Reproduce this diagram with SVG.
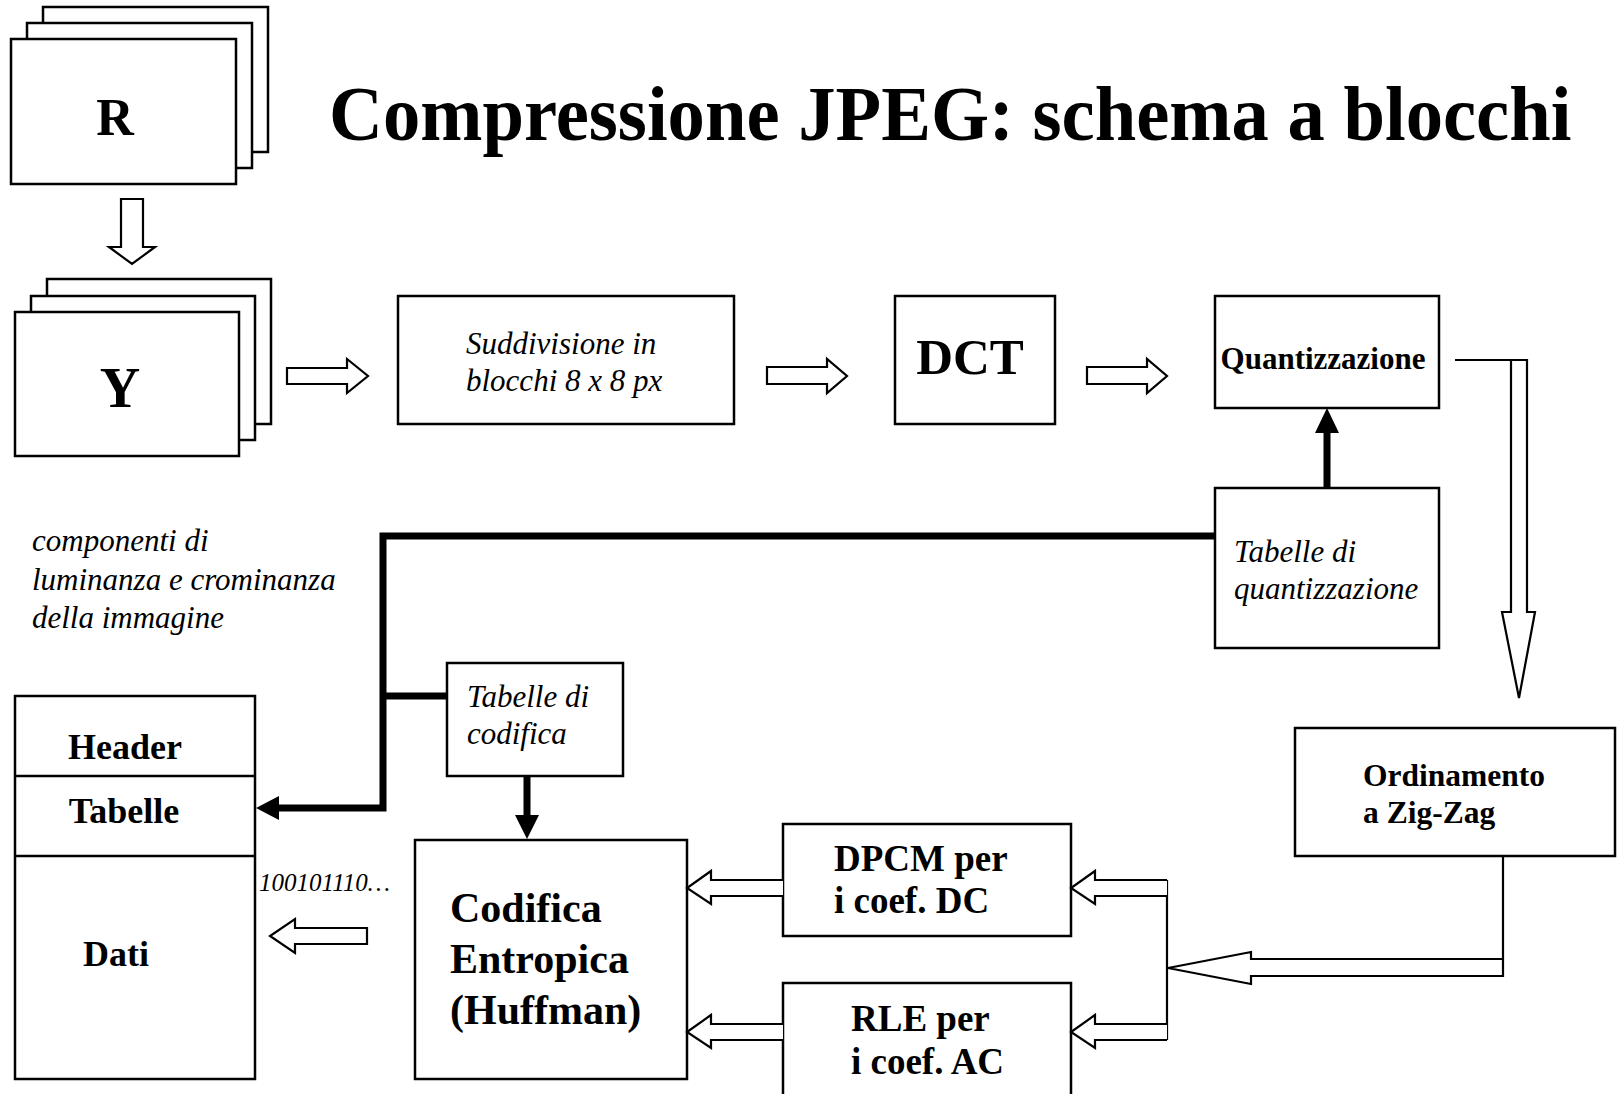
<svg xmlns="http://www.w3.org/2000/svg" width="1622" height="1094" viewBox="0 0 1622 1094" font-family="'Liberation Serif', serif">
  <style>
    text { font-family: 'Liberation Serif', serif; fill: #000; }
    .b { font-weight: bold; }
    .i { font-style: italic; font-size: 31px; }
    .box { fill: #fff; stroke: #000; stroke-width: 2.5; }
    .thin { fill: #fff; stroke: #000; stroke-width: 2.2; stroke-linejoin: miter; }
    .thick { fill: none; stroke: #000; stroke-width: 7; stroke-linejoin: miter; }
    .head { fill: #000; stroke: none; }
  </style>
  <rect width="1622" height="1094" fill="#fff"/>

  <!-- title, slightly condensed horizontally -->
  <text id="title" class="b" transform="translate(329,140) scale(0.957,1)" x="0" y="0" font-size="78">Compressione JPEG: schema a blocchi</text>

  <!-- RGB planes -->
  <g id="node-r">
    <rect class="box" x="43" y="7" width="225" height="145"/>
    <rect class="box" x="27" y="23" width="225" height="145"/>
    <rect class="box" x="11" y="39" width="225" height="145"/>
    <text class="b" x="115" y="135" font-size="52" text-anchor="middle">R</text>
  </g>

  <!-- YCbCr planes -->
  <g id="node-y">
    <rect class="box" x="47" y="279" width="224" height="145"/>
    <rect class="box" x="31" y="296" width="224" height="144"/>
    <rect class="box" x="15" y="312" width="224" height="144"/>
    <text class="b" x="120" y="407" font-size="56" text-anchor="middle">Y</text>
  </g>

  <g id="label-componenti">
    <text class="i" x="32" y="551" font-size="32">componenti di</text>
    <text class="i" x="32" y="590" font-size="32">luminanza e crominanza</text>
    <text class="i" x="32" y="628" font-size="32">della immagine</text>
  </g>

  <g id="node-suddivisione">
    <rect class="box" x="398" y="296" width="336" height="128"/>
    <text class="i" x="466" y="354">Suddivisione in</text>
    <text class="i" x="466" y="391">blocchi 8 x 8 px</text>
  </g>

  <g id="node-dct">
    <rect class="box" x="895" y="296" width="160" height="128"/>
    <text class="b" x="970" y="374" font-size="51" text-anchor="middle">DCT</text>
  </g>

  <g id="node-quantizzazione">
    <rect class="box" x="1215" y="296" width="224" height="112"/>
    <text class="b" x="1323" y="369" font-size="31" text-anchor="middle">Quantizzazione</text>
  </g>

  <g id="node-tabelle-quant">
    <rect class="box" x="1215" y="488" width="224" height="160"/>
    <text class="i" x="1234" y="562">Tabelle di</text>
    <text class="i" x="1234" y="599">quantizzazione</text>
  </g>

  <g id="node-zigzag">
    <rect class="box" x="1295" y="728" width="320" height="128"/>
    <text class="b" x="1363" y="786" font-size="31.5">Ordinamento</text>
    <text class="b" x="1363" y="823" font-size="31.5">a Zig-Zag</text>
  </g>

  <g id="node-dpcm">
    <rect class="box" x="783" y="824" width="288" height="112"/>
    <text class="b" x="834" y="871" font-size="37">DPCM per</text>
    <text class="b" x="834" y="913" font-size="37">i coef. DC</text>
  </g>

  <g id="node-rle">
    <rect class="box" x="783" y="983" width="288" height="120"/>
    <text class="b" x="851" y="1031" font-size="37">RLE per</text>
    <text class="b" x="851" y="1074" font-size="37">i coef. AC</text>
  </g>

  <g id="node-codifica">
    <rect class="box" x="415" y="840" width="272" height="239"/>
    <text class="b" x="450" y="922" font-size="42">Codifica</text>
    <text class="b" x="450" y="973" font-size="42">Entropica</text>
    <text class="b" x="450" y="1024" font-size="42">(Huffman)</text>
  </g>

  <g id="node-tabelle-codifica">
    <rect class="box" x="447" y="663" width="176" height="113"/>
    <text class="i" x="467" y="707">Tabelle di</text>
    <text class="i" x="467" y="744">codifica</text>
  </g>

  <g id="node-file">
    <rect class="box" x="15" y="696" width="240" height="383"/>
    <line x1="15" y1="776" x2="255" y2="776" stroke="#000" stroke-width="2.5"/>
    <line x1="15" y1="856" x2="255" y2="856" stroke="#000" stroke-width="2.5"/>
    <text class="b" x="125" y="759" font-size="36" text-anchor="middle">Header</text>
    <text class="b" x="124" y="823" font-size="36" text-anchor="middle">Tabelle</text>
    <text class="b" x="83" y="966" font-size="36">Dati</text>
  </g>

  <text id="label-bitstream" x="259" y="891" font-size="25" font-style="italic">100101110…</text>

  <!-- connectors -->
  <g id="connectors">
    <!-- hollow block arrows -->
    <path class="thin" d="M121,199 H143 V247 H155 L132,264 L109,247 H121 Z"/>
    <path class="thin" d="M287,368 H347 V359 L368,376 L347,393 V384 H287 Z"/>
    <path class="thin" d="M767,367 H827 V359 L847,376 L827,393 V384 H767 Z"/>
    <path class="thin" d="M1087,367 H1147 V359 L1167,376 L1147,393 V384 H1087 Z"/>
    <path class="thin" d="M1455,360 H1527 V612 H1535 L1519,698 L1502,612 H1511 V360"/>
    <path class="thin" d="M1503,856 V976 H1251 V984 L1168,968 L1251,952 V959 H1503"/>
    <line x1="1167" y1="880" x2="1167" y2="1040" stroke="#000" stroke-width="2.2"/>
    <path class="thin" d="M1167,880 H1095 V871 L1071,888 L1095,904 V896 H1167"/>
    <path class="thin" d="M1167,1024 H1095 V1015 L1071,1032 L1095,1048 V1040 H1167"/>
    <path class="thin" d="M783,880 H711 V871 L687,888 L711,904 V896 H783"/>
    <path class="thin" d="M783,1024 H711 V1015 L687,1032 L711,1048 V1040 H783"/>
    <path class="thin" d="M367,928 H295 V919 L270,936 L295,953 V944 H367 Z"/>

    <!-- table feeds (solid) -->
    <line class="thick" x1="1327" y1="488" x2="1327" y2="430"/>
    <polygon class="head" points="1315,433 1339,433 1327,408"/>
    <polyline class="thick" points="1215,536 383,536 383,808 276,808"/>
    <polygon class="head" points="279,796 279,820 256,808"/>
    <line class="thick" x1="383" y1="696" x2="447" y2="696"/>
    <line class="thick" x1="527" y1="776" x2="527" y2="818"/>
    <polygon class="head" points="515,815 539,815 527,839"/>
  </g>
</svg>
